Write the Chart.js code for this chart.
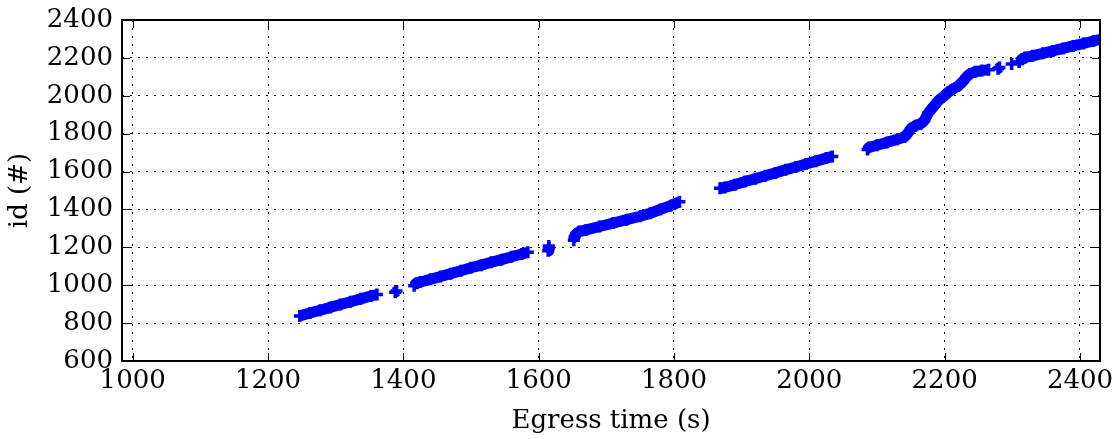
<!DOCTYPE html>
<html><head><meta charset="utf-8">
<script src="https://cdn.jsdelivr.net/npm/chart.js@4.4.0/dist/chart.umd.min.js"></script>
<style>html,body{margin:0;padding:0;background:#fff;}#wrap{width:1119px;height:439px;position:relative;}</style>
</head><body><div id="wrap"><canvas id="c"></canvas></div>
<script>
// Tick labels and axis limits
const xTickValues = [1000, 1200, 1400, 1600, 1800, 2000, 2200, 2400];
const yTickValues = [600, 800, 1000, 1200, 1400, 1600, 1800, 2000, 2200, 2400];
const xLimits = [984.2, 2429.6];
const yLimits = [600, 2400];

// Egress time (s) and id (#); null separates groups
const egressTime = [
  1247, 1262, 1277, 1292, 1307, 1322, 1337, 1352, 1361, null,
  1388, 1390, null,
  1416, 1419, 1425, 1440, 1455, 1470, 1485, 1500, 1515, 1530, 1545, 1560, 1575, 1584, null,
  1614, 1615, 1615, null,
  1652, 1653, 1655, 1660, 1670, 1690, 1710, 1730, 1750, 1765, 1780, 1795, 1808, null,
  1868, 1875, 1890, 1905, 1920, 1935, 1950, 1965, 1980, 1995, 2010, 2025, 2034, null,
  2086, 2088, 2100, 2115, 2130, 2141, 2146, 2150, 2157, 2165, 2170, 2176, 2184, 2191, 2198, 2205, 2212, 2220, 2226, 2232, 2237, 2245, 2255, 2265, null,
  2279, 2281, null,
  2299, null,
  2310, 2314, 2319, 2330, 2345, 2360, 2375, 2390, 2405, 2420, 2435
];
const agentId = [
  838, 853, 868, 883, 898, 913, 928, 943, 951, null,
  963, 969, null,
  997, 1010, 1017, 1031, 1046, 1061, 1076, 1092, 1106, 1121, 1135, 1150, 1165, 1174, null,
  1182, 1195, 1207, null,
  1238, 1255, 1270, 1283, 1292, 1310, 1328, 1346, 1364, 1380, 1400, 1420, 1440, null,
  1512, 1516, 1531, 1547, 1562, 1578, 1593, 1609, 1624, 1640, 1655, 1671, 1680, null,
  1716, 1727, 1739, 1754, 1770, 1784, 1805, 1826, 1842, 1853, 1870, 1910, 1945, 1975, 1995, 2018, 2035, 2052, 2072, 2098, 2115, 2127, 2133, 2138, null,
  2143, 2149, null,
  2168, null,
  2178, 2193, 2202, 2211, 2224, 2237, 2250, 2263, 2276, 2289, 2302
];

const points = egressTime.map((t, i) => ({ x: t, y: agentId[i] }));

const FONT = { family: "'DejaVu Serif', serif", size: 26 };

const framePlugin = {
  id: 'frame',
  afterDatasetsDraw(chart) {
    const { ctx, chartArea: a, scales: { x, y } } = chart;
    ctx.save();
    ctx.strokeStyle = '#000';
    ctx.lineWidth = 1;
    ctx.beginPath();
    x.ticks.forEach(t => {
      const p = Math.round(x.getPixelForValue(t.value)) + 0.5;
      ctx.moveTo(p, a.bottom); ctx.lineTo(p, a.bottom - 8);
      ctx.moveTo(p, a.top); ctx.lineTo(p, a.top + 8);
    });
    y.ticks.forEach(t => {
      const p = Math.round(y.getPixelForValue(t.value)) + 0.5;
      ctx.moveTo(a.left, p); ctx.lineTo(a.left + 8, p);
      ctx.moveTo(a.right, p); ctx.lineTo(a.right - 8, p);
    });
    ctx.stroke();
    ctx.lineWidth = 2;
    ctx.strokeRect(a.left, a.top, a.right - a.left, a.bottom - a.top);
    ctx.restore();
  }
};

new Chart(document.getElementById('c'), {
  type: 'scatter',
  data: {
    datasets: [{
      data: points,
      showLine: true,
      spanGaps: false,
      borderColor: '#0000ff',
      borderWidth: 11,
      borderJoinStyle: 'round',
      backgroundColor: '#0000ff',
      pointStyle: 'cross',
      pointRadius: 6,
      pointBorderWidth: 3.5,
      pointBorderColor: '#0000ff',
      clip: 0
    }]
  },
  options: {
    responsive: true,
    maintainAspectRatio: false,
    animation: false,
    layout: { padding: { left: 0, right: 19, top: 20, bottom: 0 } },
    plugins: { legend: { display: false }, tooltip: { enabled: false } },
    scales: {
      x: {
        type: 'linear',
        min: xLimits[0], max: xLimits[1],
        afterBuildTicks: s => { s.ticks = xTickValues.map(v => ({ value: v })); },
        afterFit: s => { s.height = 78; s.paddingLeft = 0; s.paddingRight = 0; },
        ticks: { font: FONT, color: '#000', padding: 5, maxRotation: 0, callback: v => String(v) },
        grid: { color: '#000', lineWidth: 1, drawTicks: false },
        border: { display: false, dash: [2, 6] },
        title: { display: true, text: 'Egress time (s)', font: FONT, color: '#000', padding: { top: 0, bottom: 2 } }
      },
      y: {
        type: 'linear',
        min: yLimits[0], max: yLimits[1],
        afterBuildTicks: s => { s.ticks = yTickValues.map(v => ({ value: v })); },
        afterFit: s => { s.width = 122; s.paddingTop = 0; s.paddingBottom = 0; },
        ticks: { font: FONT, color: '#000', padding: 9, callback: v => String(v) },
        grid: { color: '#000', lineWidth: 1, drawTicks: false },
        border: { display: false, dash: [2, 6] },
        title: { display: true, text: 'id (#)', font: FONT, color: '#000', padding: { top: 5, bottom: 0 } }
      }
    }
  },
  plugins: [framePlugin]
});
</script>
</body></html>
